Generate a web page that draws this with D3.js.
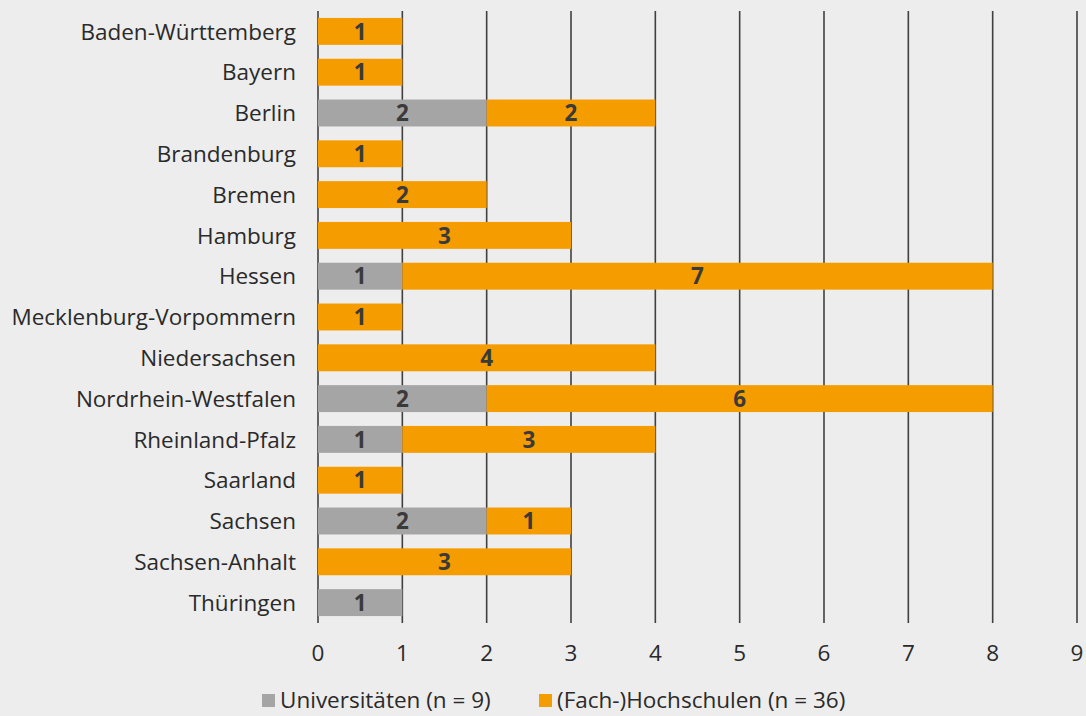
<!DOCTYPE html>
<meta charset="utf-8">
<body style="margin:0;background:#ededed">
  <div id="content"></div>
</body>
<script src="https://cdn.jsdelivr.net/npm/d3@7"></script>
<script>
// data
var states = ["Baden-Württemberg", "Bayern", "Berlin", "Brandenburg", "Bremen", "Hamburg", "Hessen",
  "Mecklenburg-Vorpommern", "Niedersachsen", "Nordrhein-Westfalen", "Rheinland-Pfalz", "Saarland",
  "Sachsen", "Sachsen-Anhalt", "Thüringen"];
var universitaeten = [0, 0, 2, 0, 0, 0, 1, 0, 0, 2, 1, 0, 2, 0, 1];
var hochschulen = [1, 1, 2, 1, 2, 3, 7, 1, 4, 6, 3, 1, 1, 3, 0];
var seriesNames = ["Universitäten (n = 9)", "(Fach-)Hochschulen (n = 36)"];
var xTicks = [0, 1, 2, 3, 4, 5, 6, 7, 8, 9];

var chart = { width: 1086, height: 716, left: 318, right: 1077, top: 11, bottom: 623 };
var colors = ["#a5a5a5", "#f59c00"];
var font = "'Open Sans', 'Noto Sans', sans-serif";
var fontSize = 22.5;

var svg = d3.select('#content').append('svg')
  .attr('width', chart.width).attr('height', chart.height)
  .style('display', 'block').style('background', '#ededed')
  .style('font-family', font);

var x = d3.scaleLinear().domain([0, 9]).range([chart.left, chart.right]);
var y = d3.scaleBand().domain(states).range([chart.top, chart.bottom]).paddingInner(0.34).paddingOuter(0.17);

// grid lines
svg.append('g').selectAll('line').data(xTicks).enter().append('line')
  .attr('x1', function (d) { return x(d); }).attr('x2', function (d) { return x(d); })
  .attr('y1', chart.top).attr('y2', chart.bottom)
  .attr('stroke', '#404040').attr('stroke-width', 1.6);

// stacked segments
var segments = [];
states.forEach(function (s, i) {
  var vals = [universitaeten[i], hochschulen[i]];
  var start = 0;
  vals.forEach(function (v, k) {
    if (v > 0) segments.push({ state: s, k: k, x0: start, x1: start + v, value: v });
    start += v;
  });
});

svg.append('g').selectAll('rect').data(segments).enter().append('rect')
  .attr('x', function (d) { return x(d.x0); })
  .attr('width', function (d) { return x(d.x1) - x(d.x0); })
  .attr('y', function (d) { return y(d.state); })
  .attr('height', y.bandwidth())
  .attr('fill', function (d) { return colors[d.k]; });

svg.append('g').selectAll('text').data(segments).enter().append('text')
  .attr('x', function (d) { return (x(d.x0) + x(d.x1)) / 2; })
  .attr('y', function (d) { return y(d.state) + y.bandwidth() / 2; })
  .attr('dy', '0.36em')
  .attr('text-anchor', 'middle')
  .attr('font-size', fontSize).attr('font-weight', 'bold').attr('fill', '#3a3a3a')
  .text(function (d) { return d.value; });

// category labels
svg.append('g').selectAll('text').data(states).enter().append('text')
  .attr('x', 296)
  .attr('y', function (d) { return y(d) + y.bandwidth() / 2; })
  .attr('dy', '0.36em')
  .attr('text-anchor', 'end')
  .attr('font-size', fontSize).attr('fill', '#2a2a2a')
  .text(function (d) { return d; });

// x tick labels
svg.append('g').selectAll('text').data(xTicks).enter().append('text')
  .attr('x', function (d) { return x(d); })
  .attr('y', 661)
  .attr('text-anchor', 'middle')
  .attr('font-size', fontSize).attr('fill', '#2a2a2a')
  .text(function (d) { return d; });

// legend
var legendX = [262, 539];
var legend = svg.append('g').selectAll('g').data(seriesNames).enter().append('g')
  .attr('transform', function (d, i) { return 'translate(' + legendX[i] + ',0)'; });
legend.append('rect').attr('x', 0).attr('y', 694).attr('width', 13).attr('height', 13)
  .attr('fill', function (d, i) { return colors[i]; });
legend.append('text').attr('x', 18).attr('y', 708)
  .attr('font-size', fontSize).attr('fill', '#2a2a2a')
  .text(function (d) { return d; });
</script>
